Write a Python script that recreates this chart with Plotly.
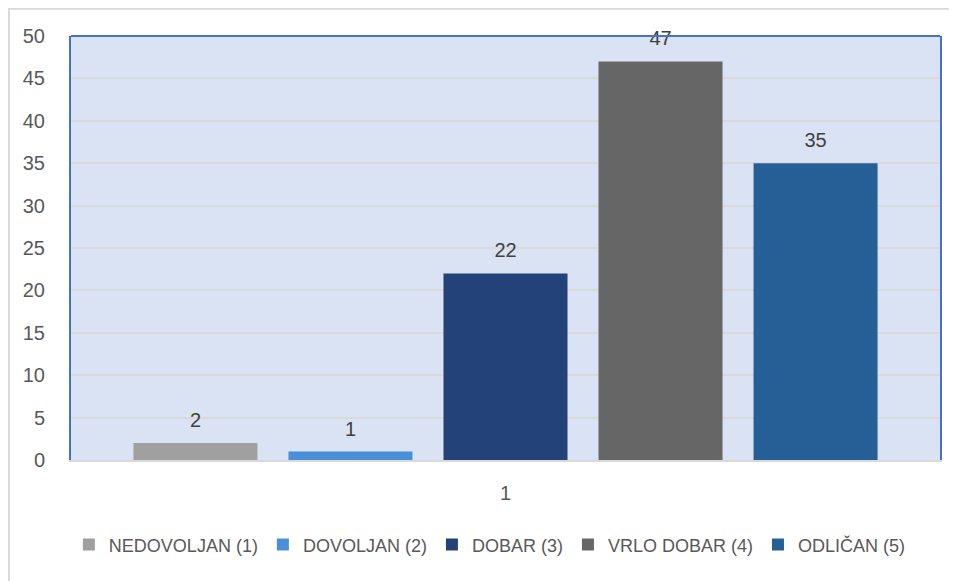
import plotly.graph_objects as go

categories = ["1"]
series_names = ["NEDOVOLJAN (1)", "DOVOLJAN (2)", "DOBAR (3)", "VRLO DOBAR (4)", "ODLIČAN (5)"]
series_values = [2, 1, 22, 47, 35]
series_colors = ["#A0A0A0", "#4A90D9", "#23427A", "#666666", "#265E96"]
y_ticks = [0, 5, 10, 15, 20, 25, 30, 35, 40, 45, 50]

FONT = "Liberation Sans"
BARGAP = 0.108

fig = go.Figure()
for i, (name, val, col) in enumerate(zip(series_names, series_values, series_colors)):
    fig.add_trace(go.Bar(
        x=categories, y=[val], name=name, offsetgroup=str(i),
        marker=dict(color=col, line=dict(width=0)),
    ))
for i, (name, val) in enumerate(zip(series_names, series_values)):
    fig.add_trace(go.Scatter(
        x=categories, y=[val], name=name, offsetgroup=str(i), showlegend=False,
        mode="markers+text", text=[str(val)], textposition="top center",
        marker=dict(size=16, color="rgba(0,0,0,0)"),
        textfont=dict(family=FONT, size=20, color="#404040"),
        cliponaxis=False, hoverinfo="skip",
    ))

fig.update_layout(
    width=949, height=573,
    margin=dict(l=63, r=17, t=28, b=121),
    paper_bgcolor="white",
    plot_bgcolor="#DAE3F3",
    barmode="group",
    scattermode="group",
    bargap=BARGAP,
    scattergap=BARGAP,
    bargroupgap=0.2,
    font=dict(family=FONT, size=20, color="#595959"),
    showlegend=True,
    legend=dict(orientation="h", x=0.482, xanchor="center", y=-0.2, yanchor="middle",
                font=dict(family=FONT, size=18, color="#595959"),
                itemwidth=30, tracegroupgap=0),
    xaxis=dict(type="category", showgrid=False, showline=True, linecolor="#D9D9D9", linewidth=2,
               ticks="outside", ticklen=14, tickcolor="rgba(0,0,0,0)",
               tickfont=dict(family=FONT, size=20, color="#595959"), fixedrange=True),
    yaxis=dict(range=[0, 50], tickvals=y_ticks, showgrid=True, gridcolor="#D9D9D9", gridwidth=2,
               showline=True, mirror=True, linecolor="#4472C4", linewidth=2, zeroline=False,
               ticks="outside", ticklen=20, tickcolor="rgba(0,0,0,0)",
               tickfont=dict(family=FONT, size=20, color="#595959")),
    shapes=[
        dict(type="line", xref="paper", yref="paper", x0=0, x1=1, y0=1, y1=1,
             line=dict(color="#4472C4", width=2), layer="above"),
        dict(type="rect", xref="paper", yref="paper", x0=-0.0713, x1=1.06, y0=-0.32, y1=1.064,
             line=dict(color="#D9D9D9", width=2), layer="below"),
    ],
)

fig.write_html("out.html")
